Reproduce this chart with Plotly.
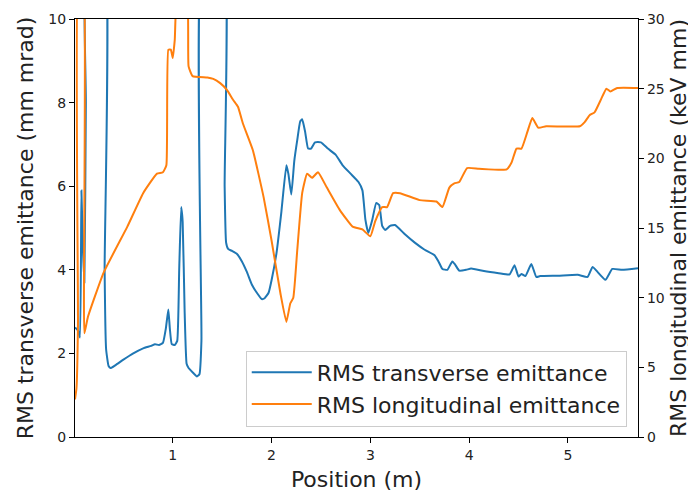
import plotly.graph_objects as go

# Transverse emittance (mm mrad), left axis
pos_t = [0.01, 0.04, 0.06, 0.075, 0.09, 0.105, 0.12, 0.13, 0.30, 0.31, 0.325, 0.35, 0.37,
         0.42, 0.5, 0.6, 0.7, 0.78, 0.82, 0.86, 0.9, 0.93, 0.955, 0.97, 0.99, 1.02, 1.045,
         1.065, 1.085, 1.10, 1.12, 1.14, 1.16, 1.2, 1.245, 1.27, 1.29, 1.31, 1.51, 1.525,
         1.54, 1.56, 1.6, 1.65, 1.7, 1.75, 1.8, 1.86, 1.9, 1.93, 1.97, 2.0, 2.05, 2.1, 2.15,
         2.17, 2.2, 2.23, 2.26, 2.29, 2.31, 2.34, 2.37, 2.4, 2.44, 2.5, 2.57, 2.65, 2.72,
         2.8, 2.88, 2.92, 2.95, 2.98, 3.02, 3.06, 3.09, 3.12, 3.15, 3.2, 3.25, 3.35, 3.45,
         3.55, 3.65, 3.69, 3.73, 3.78, 3.83, 3.86, 3.9, 3.97, 4.02, 4.15, 4.3, 4.41, 4.46,
         4.5, 4.53, 4.57, 4.63, 4.68, 4.72, 4.9, 5.1, 5.2, 5.25, 5.3, 5.38, 5.45, 5.55, 5.71]
eps_t = [2.62, 2.55, 2.38, 5.9, 4.5, 3.7, 8.0, 12, 12, 4.0, 2.1, 1.7, 1.65,
         1.72, 1.85, 2.0, 2.12, 2.18, 2.22, 2.2, 2.25, 2.6, 3.05, 2.6, 2.22, 2.2, 2.3,
         4.0, 5.5, 5.15, 3.0, 1.75, 1.65, 1.55, 1.45, 1.5, 2.3, 12, 12, 6.0,
         4.65, 4.5, 4.45, 4.38, 4.2, 3.95, 3.65, 3.42, 3.3, 3.32, 3.45, 3.75, 4.4, 5.4, 6.5,
         6.3, 5.8, 6.6, 7.1, 7.55, 7.6, 7.3, 6.9, 6.9, 7.05, 7.05, 6.9, 6.75, 6.5,
         6.3, 6.1, 5.9, 5.2, 4.88, 5.2, 5.6, 5.55, 5.05, 4.95, 5.05, 5.07, 4.85, 4.65,
         4.48, 4.35, 4.2, 4.02, 4.0, 4.2, 4.12, 3.98, 4.0, 4.03, 3.97, 3.92, 3.89, 4.11,
         3.84, 3.9, 3.85, 4.14, 3.83, 3.85, 3.86, 3.88, 3.83, 4.07, 3.95, 3.76, 4.02, 4.0, 4.04]

# Longitudinal emittance (keV mm), right axis
pos_l = [0.01, 0.025, 0.04, 0.05, 0.09, 0.105, 0.14, 0.30, 0.54, 0.70, 0.84, 0.90, 0.935,
         0.955, 0.98, 1.0, 1.02, 1.05, 1.14, 1.16, 1.2, 1.35, 1.41, 1.48, 1.55, 1.61, 1.66,
         1.71, 1.81, 1.92, 2.0, 2.09, 2.15, 2.19, 2.22, 2.26, 2.31, 2.36, 2.41, 2.47, 2.56,
         2.69, 2.82, 2.92, 3.0, 3.05, 3.12, 3.17, 3.23, 3.3, 3.5, 3.67, 3.73, 3.8, 3.85,
         3.9, 3.98, 4.1, 4.38, 4.43, 4.48, 4.53, 4.59, 4.64, 4.7, 4.78, 5.12, 5.17, 5.22,
         5.27, 5.34, 5.39, 5.43, 5.5, 5.71]
eps_l = [2.7, 3.5, 8.0, 35, 35, 7.45, 8.6, 11.8, 15.1, 17.5, 18.9, 19.0, 19.5,
         27.8, 27.8, 27.2, 28.5, 32, 32, 26.6, 25.9, 25.8, 25.7, 25.4, 24.9, 24.2, 23.7,
         22.5, 20.6, 17.2, 14.1, 10.3, 8.26, 9.6, 10.0, 13.4, 17.5, 18.9, 18.6, 19.0, 17.9,
         16.3, 15.1, 14.9, 14.4, 15.5, 16.5, 16.5, 17.5, 17.5, 17.0, 16.9, 16.5, 17.9, 18.2,
         18.3, 19.3, 19.25, 19.2, 19.7, 20.7, 20.7, 21.9, 22.9, 22.2, 22.3, 22.3, 22.6, 23.1,
         23.3, 24.3, 25.0, 24.8, 25.05, 25.05]

x_ticks = [1, 2, 3, 4, 5]
y1_ticks = [0, 2, 4, 6, 8, 10]
y2_ticks = [0, 5, 10, 15, 20, 25, 30]

FONT = "DejaVu Sans"
TITLE_SIZE = 22

fig = go.Figure()
fig.add_trace(go.Scatter(x=pos_t, y=eps_t, mode="lines", name="RMS transverse emittance",
                         line=dict(color="#1f77b4", width=2, shape="spline", smoothing=0.4)))
fig.add_trace(go.Scatter(x=pos_l, y=eps_l, mode="lines", name="RMS longitudinal emittance",
                         yaxis="y2",
                         line=dict(color="#ff7f0e", width=2, shape="spline", smoothing=0.4)))

axis_common = dict(showline=True, linecolor="black", linewidth=1.2, ticks="outside",
                   ticklen=5, tickcolor="black", showgrid=False, zeroline=False,
                   automargin=False,
                   tickfont=dict(family=FONT, size=14, color="#222"))

fig.update_layout(
    width=688, height=486,
    margin=dict(l=67, r=58, t=11, b=57),
    paper_bgcolor="white", plot_bgcolor="white",
    font=dict(family=FONT, color="#222"),
    xaxis=dict(range=[0.01, 5.71], tickvals=x_ticks, mirror=True,
               title=dict(text="Position (m)", font=dict(family=FONT, size=TITLE_SIZE), standoff=9),
               **axis_common),
    yaxis=dict(range=[0, 10], tickvals=y1_ticks,
               title=dict(text="RMS transverse emittance (mm mrad)", font=dict(family=FONT, size=TITLE_SIZE), standoff=8),
               **axis_common),
    yaxis2=dict(range=[0, 30], tickvals=y2_ticks, overlaying="y", side="right",
                title=dict(text="RMS longitudinal emittance (keV mm)", font=dict(family=FONT, size=TITLE_SIZE), standoff=6),
                **axis_common),
    legend=dict(x=0.98, y=0.025, xanchor="right", yanchor="bottom",
                bgcolor="rgba(255,255,255,0.85)", bordercolor="#cccccc", borderwidth=1,
                itemwidth=60,
                font=dict(family=FONT, size=TITLE_SIZE, color="#222")),
    showlegend=True,
)

fig.write_html("out.html")
